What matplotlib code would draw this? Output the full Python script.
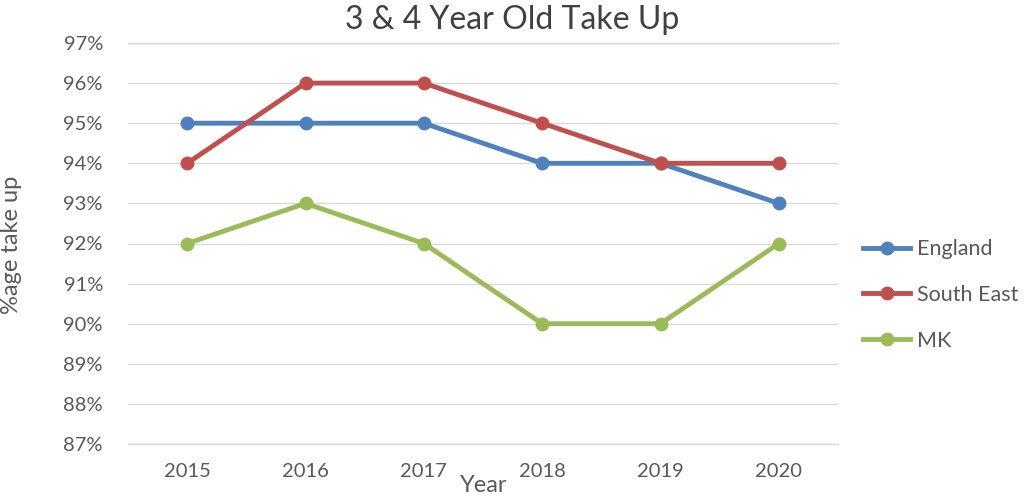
import matplotlib.pyplot as plt
from matplotlib.ticker import FuncFormatter

plt.rcParams['font.family'] = ['Lato', 'DejaVu Sans']

# chart data
years = ['2015', '2016', '2017', '2018', '2019', '2020']
england = [95, 95, 95, 94, 94, 93]
south_east = [94, 96, 96, 95, 94, 94]
mk = [92, 93, 92, 90, 90, 92]

series = [
    ('England', england, '#4F81BD'),
    ('South East', south_east, '#C0504D'),
    ('MK', mk, '#9BBB59'),
]

fig = plt.figure(figsize=(10.28, 4.96), dpi=100)
ax = fig.add_axes([128 / 1028, 52 / 496, 710 / 1028, 401 / 496])

x = list(range(len(years)))
for name, vals, col in series:
    ax.plot(x, vals, color=col, linewidth=3.5, marker='o', markersize=9, label=name)

ax.set_xlim(-0.5, len(years) - 0.5)
ax.set_ylim(87, 97)
ax.set_yticks(range(87, 98))
ax.yaxis.set_major_formatter(FuncFormatter(lambda v, p: f'{int(v)}%'))
ax.set_xticks(x)
ax.set_xticklabels(years)
ax.grid(axis='y', color='#D9D9D9', linewidth=1)
ax.axhline(87, color='#D9D9D9', linewidth=1, clip_on=False, zorder=0)
ax.axhline(97, color='#D9D9D9', linewidth=1, clip_on=False, zorder=0)
ax.set_axisbelow(True)
for s in ax.spines.values():
    s.set_visible(False)
ax.tick_params(length=0, labelsize=14.5, colors='#595959')
ax.tick_params(axis='y', pad=18)
ax.tick_params(axis='x', pad=14)

fig.text(512 / 1028, 1 - 20 / 496, '3 & 4 Year Old Take Up', ha='center', va='center',
         fontsize=23, color='#404040')
fig.text(12 / 1028, 1 - 245 / 496, '%age take up', rotation=90, ha='center', va='center',
         fontsize=17, color='#595959')
fig.text(484 / 1028, 1 - 485 / 496, 'Year', ha='center', va='center',
         fontsize=17, color='#595959')

ax.legend(loc='center left', bbox_to_anchor=(863 / 1028, 1 - 295 / 496),
          bbox_transform=fig.transFigure, frameon=False, fontsize=15.5,
          labelcolor='#595959', handlelength=2.2, handletextpad=0.3,
          labelspacing=1.2, borderpad=0, borderaxespad=0)

fig.savefig('out.png', dpi=100)
